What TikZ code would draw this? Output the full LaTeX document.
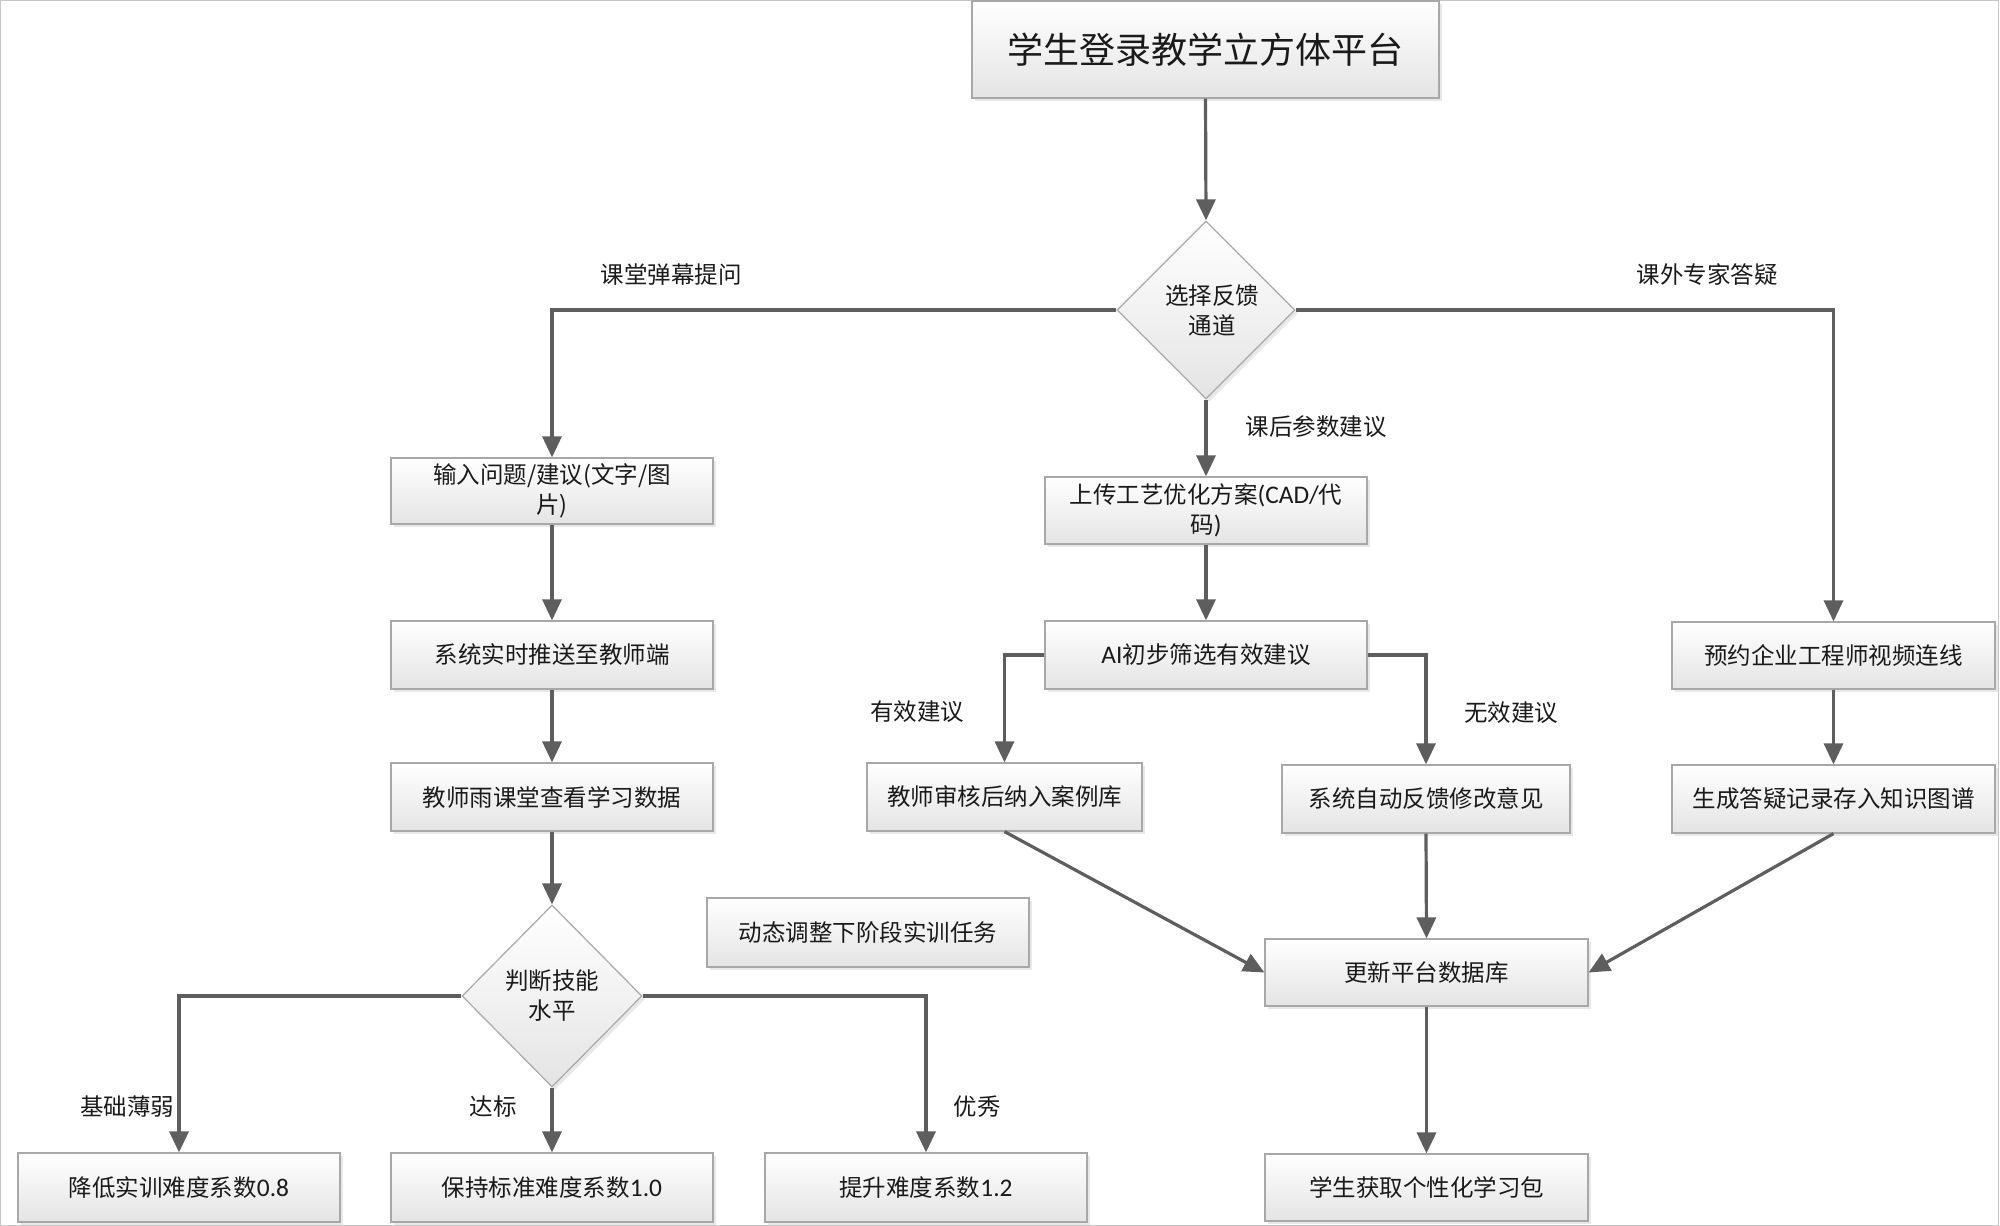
\documentclass[tikz,border=0pt]{standalone}
\usepackage{fontspec}
\setmainfont{Noto Sans CJK SC}
\newfontfamily\lat{Carlito}[Scale=1.08]
\usetikzlibrary{arrows.meta,shapes.geometric,shadows}
\definecolor{linec}{HTML}{5E5E5E}
\definecolor{boxline}{HTML}{A8A8A8}
\definecolor{boxbot}{HTML}{E4E4E4}
\definecolor{txt}{HTML}{1A1A1A}
\begin{document}
\begin{tikzpicture}[x=1pt,y=-1pt,
  font=\fontsize{23.5}{30}\selectfont, text=txt,
  boxst/.style={rectangle, draw=boxline, line width=1.2pt, top color=white, bottom color=boxbot,
     drop shadow={shadow xshift=3pt, shadow yshift=-3pt, opacity=0.18, fill=gray},
     minimum height=67pt, inner sep=2pt, align=center},
  dmd/.style={diamond, draw=boxline, line width=1.2pt, top color=white, bottom color=boxbot,
     drop shadow={shadow xshift=3pt, shadow yshift=-3pt, opacity=0.18, fill=gray},
     inner sep=0pt, align=center},
  lbl/.style={inner sep=0pt},
  conn/.style={draw=linec, line width=3.2pt, -{Triangle[length=21pt,width=19pt]}},
  plain/.style={draw=linec, line width=3.2pt}
]
\useasboundingbox (0,0) rectangle (2000,1226);
\draw[gray!45, line width=1pt] (0.5,0.5) rectangle (1998.5,1225.5);

% nodes
\node[boxst, minimum width=467pt, minimum height=97pt, font=\fontsize{36}{42}\selectfont] (title) at (1205.5,49.5) {学生登录教学立方体平台};
\node[dmd, minimum width=178pt, minimum height=178pt] (d1) at (1206,310) {\hspace*{12pt}选择反馈\\\hspace*{12pt}通道};

\node[boxst, minimum width=322pt, minimum height=66pt] (in1) at (552,491) {输入问题/建议(文字/图\\片)};
\node[boxst, minimum width=322pt, minimum height=68pt] (in2) at (552,655) {系统实时推送至教师端};
\node[boxst, minimum width=322pt, minimum height=68pt] (in3) at (552,797) {教师雨课堂查看学习数据};
\node[dmd, minimum width=180pt, minimum height=182pt] (d2) at (552,996) {判断技能\\水平};

\node[boxst, minimum width=322pt, minimum height=69pt] (low) at (179,1187.5) {降低实训难度系数{\lat 0.8}};
\node[boxst, minimum width=322pt, minimum height=69pt] (std) at (552,1187.5) {保持标准难度系数{\lat 1.0}};
\node[boxst, minimum width=322pt, minimum height=69pt] (high) at (926,1187.5) {提升难度系数{\lat 1.2}};
\node[boxst, minimum width=322pt, minimum height=69pt] (dyn) at (868,932.5) {动态调整下阶段实训任务};

\node[boxst, minimum width=322pt, minimum height=67pt] (up) at (1206,510.5) {上传工艺优化方案{\lat (CAD/}代\\码{\lat )}};
\node[boxst, minimum width=322pt, minimum height=68pt] (ai) at (1206,655) {{\lat AI}初步筛选有效建议};
\node[boxst, minimum width=275pt, minimum height=68pt] (ok) at (1004.5,797) {教师审核后纳入案例库};
\node[boxst, minimum width=288pt, minimum height=68pt] (no) at (1426,799) {系统自动反馈修改意见};

\node[boxst, minimum width=323pt, minimum height=67pt] (yy) at (1833.5,655.5) {预约企业工程师视频连线};
\node[boxst, minimum width=323pt, minimum height=68pt] (gen) at (1833.5,799) {生成答疑记录存入知识图谱};

\node[boxst, minimum width=323pt, minimum height=67pt] (upd) at (1426.5,972.5) {更新平台数据库};
\node[boxst, minimum width=323pt, minimum height=67pt] (get) at (1426.5,1187.5) {学生获取个性化学习包};

% labels
\node[lbl] (l1) at (671,275) {课堂弹幕提问};
\node[lbl] (l2) at (1707,275) {课外专家答疑};
\node[lbl] (l3) at (1316,427) {课后参数建议};
\node[lbl] (l4) at (917,712) {有效建议};
\node[lbl] (l5) at (1511,713) {无效建议};
\node[lbl] (l6) at (127,1107) {基础薄弱};
\node[lbl] (l7) at (493,1107) {达标};
\node[lbl] (l8) at (977,1107) {优秀};

% connectors
\draw[conn] (title.south) -- (d1.north);
\draw[conn] (d1.west) -| (in1.north);
\draw[conn] (d1.east) -| (yy.north);
\draw[conn] (d1.south) -- (up.north);
\draw[conn] (in1.south) -- (in2.north);
\draw[conn] (in2.south) -- (in3.north);
\draw[conn] (in3.south) -- (d2.north);
\draw[conn] (d2.west) -| (low.north);
\draw[conn] (d2.south) -- (std.north);
\draw[conn] (d2.east) -| (high.north);
\draw[conn] (up.south) -- (ai.north);
\draw[conn] (ai.west) -| (ok.north);
\draw[conn] (ai.east) -| (no.north);
\draw[conn] (yy.south) -- (gen.north);
\draw[conn] (ok.south) -- (upd.west);
\draw[conn] (no.south) -- (upd.north);
\draw[conn] (gen.south) -- (upd.east);
\draw[conn] (upd.south) -- (get.north);
\end{tikzpicture}
\end{document}
